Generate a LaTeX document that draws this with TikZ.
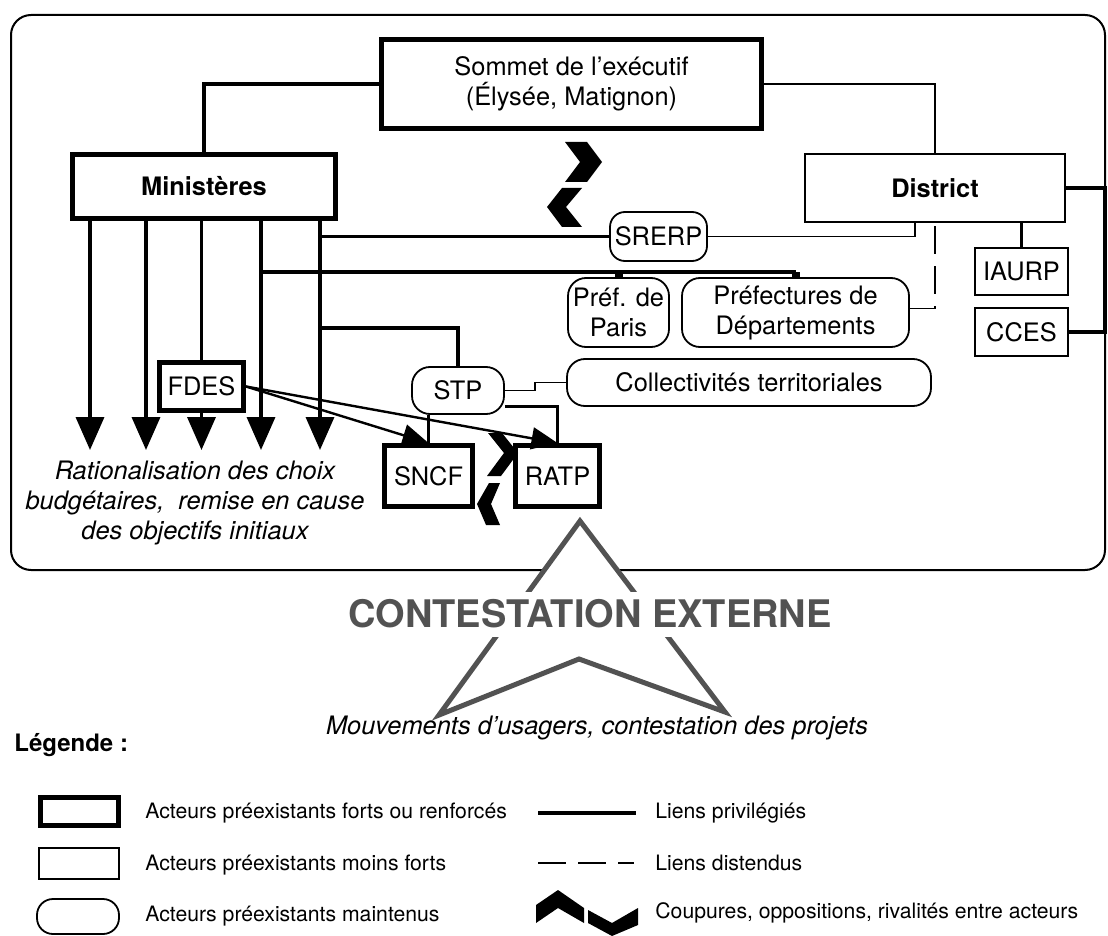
\documentclass[tikz,border=0pt]{standalone}
\usepackage{fontspec}
\setmainfont{TeX Gyre Heros}
\usetikzlibrary{arrows.meta}
\usetikzlibrary{calc}

\definecolor{gris}{RGB}{82,82,82}

\tikzset{
	acteur/.style={inner sep=0pt,align=center,font=\fontsize{12.7pt}{15pt}\selectfont},
	fort/.style={acteur,draw,line width=2.5pt},
	moinsfort/.style={acteur,draw,line width=1pt},
	maintenu/.style={acteur,draw,line width=0.9pt,rounded corners=9pt},
	lienfort/.style={line width=1.8pt},
	lien/.style={line width=0.8pt},
	distendu/.style={line width=0.8pt,dash pattern=on 14pt off 6pt},
	fleche/.style={lienfort,-{Triangle[length=16.5pt,width=14pt]}},
	flechefine/.style={line width=1.2pt,-{Triangle[length=13pt,width=11pt]}},
	legende/.style={anchor=west,inner sep=0pt,font=\fontsize{10.6pt}{13pt}\selectfont},
}

\begin{document}
\begin{tikzpicture}[x=0.5pt,y=-0.5pt]
\useasboundingbox (0,0) rectangle (1108,936);
\draw[line width=1pt,rounded corners=10pt] (11,15) rectangle (1105,570);

\node[fort,minimum width=190pt,minimum height=44.5pt] (sommet) at (571.5,84) {Sommet de l'exécutif\\(Élysée, Matignon)};
\node[fort,minimum width=131.5pt,minimum height=32pt] (minis) at (204,186.5) {\bfseries Ministères};
\node[moinsfort,minimum width=130pt,minimum height=34pt] (district) at (935,188) {\bfseries District};
\node[maintenu,minimum width=48.5pt,minimum height=24.5pt,rounded corners=7.5pt] (srerp) at (658.5,236.5) {SRERP};
\node[maintenu,minimum width=50.5pt,minimum height=34.5pt] (prefparis) at (618.5,312.5) {Préf. de\\Paris};
\node[maintenu,minimum width=113.5pt,minimum height=34.5pt] (prefdep) at (795.5,312.5) {Préfectures de\\Départements};
\node[moinsfort,minimum width=46.5pt,minimum height=23.5pt] (iaurp) at (1021.5,271.5) {IAURP};
\node[moinsfort,minimum width=46.5pt,minimum height=24pt] (cces) at (1021.5,332) {CCES};
\node[maintenu,minimum width=182pt,minimum height=23.5pt] (collect) at (749,382.5) {Collectivités territoriales};
\node[maintenu,minimum width=46pt,minimum height=23.5pt] (stp) at (458,390.5) {STP};
\node[fort,minimum width=42pt,minimum height=24pt] (fdes) at (201.5,386.5) {FDES};
\node[fort,minimum width=44pt,minimum height=30.5pt] (sncf) at (428.5,476) {SNCF};
\node[fort,minimum width=42pt,minimum height=30.5pt] (ratp) at (557.5,476) {RATP};

\draw[lienfort] (minis.north) |- (sommet.west);
\draw[lien] (sommet.east) -| (district.north);

\foreach \x/\n in {90/a,146/b,261/d,320/e}
	\coordinate (fin\n) at (\x,450);
\foreach \n in {a,b,d,e}
	\draw[fleche] (minis.south -| fin\n) -- (fin\n);
\draw[lienfort] (minis.south -| fdes.north) -- (fdes.north);
\draw[fleche] (fdes.south) -- (fdes.south |- fina);

\draw[lienfort] (fine |- srerp.west) -- (srerp.west);
\draw[lien] (srerp.east) -| ([xshift=-10pt]district.south);
\coordinate (pref) at ([yshift=2.5pt]prefdep.north);
\draw[lienfort] (find |- pref) -- (pref);
\draw[line width=4pt] (prefparis.north) -- (prefparis.north |- pref);
\draw[line width=4pt] (prefdep.north) -- (pref);
\draw[distendu] ([yshift=2pt]prefdep.east) -| (district.south);

\coordinate (stpcoude) at (320,328);
\draw[lienfort] (stpcoude) -| (stp.north);
\draw[lien] (stp.east) -- ++(15pt,0) |- (collect.west);
\draw[lienfort] ([yshift=-8pt]stp.east) -| (ratp.north);
\draw[line width=1.2pt] (stp.south -| sncf.north) -- (sncf.north);
\draw[flechefine] (fdes.east) -- (sncf.north);
\draw[flechefine] (fdes.east) -- (ratp.north);

\draw[lienfort] (district.south -| iaurp.north) -- (iaurp.north);
\draw[lienfort] (district.east) -- ++(19.5pt,0) |- (cces.east);

\fill (565,142) -- (587,142) -- (602,162) -- (587,182) -- (565,182) -- (580,162) -- cycle;
\fill (562,188) -- (582,188) -- (566,207) -- (582,227) -- (562,227) -- (547,207) -- cycle;
\fill (488,433) -- (502,433) -- (518,453) -- (501,476) -- (487,476) -- (504,453) -- cycle;
\fill (489,483) -- (500,483) -- (491,504) -- (500,525) -- (486,525) -- (477,504) -- cycle;

\node[acteur,font=\itshape\fontsize{12.7pt}{15pt}\selectfont] (ration) at (195,503) {Rationalisation des choix\\budgétaires,~ remise en cause\\des objectifs initiaux};

\draw[gris,line width=2.5pt,fill=white] (580,521) -- (439,715) -- (579,659) -- (725,712) -- cycle;
\node[inner sep=0pt,fill=white,text=gris,minimum height=22.5pt,font=\bfseries\fontsize{19pt}{22pt}\selectfont] (contest) at (590,614) {CONTESTATION EXTERNE};
\node[acteur,font=\itshape\fontsize{12.7pt}{15pt}\selectfont] (mouv) at (597,728) {Mouvements d'usagers, contestation des projets};

\node[anchor=west,inner sep=0pt,font=\bfseries\fontsize{12pt}{14pt}\selectfont] (leg) at (14,745) {Légende :};
\node[fort,minimum width=39pt,minimum height=14pt] (legfort) at (79.5,811.5) {};
\node[moinsfort,minimum width=40pt,minimum height=15.5pt] (legmoins) at (79,863.5) {};
\node[maintenu,minimum width=41pt,minimum height=17.5pt,rounded corners=8pt] (legmaint) at (78,916.5) {};
\node[legende] (t1) at (145,813) {Acteurs préexistants forts ou renforcés};
\node[legende] (t2) at (145,865) {Acteurs préexistants moins forts};
\node[legende] (t3) at (145,916) {Acteurs préexistants maintenus};
\node[legende] (t4) at (655,813) {Liens privilégiés};
\node[legende] (t5) at (655,863) {Liens distendus};
\node[legende] (t6) at (655,913) {Coupures, oppositions, rivalités entre acteurs};
\draw[line width=2pt] ([xshift=-58.5pt]t4.west) -- ([xshift=-9.5pt]t4.west);
\draw[distendu] ([xshift=-58.5pt]t5.west) -- ([xshift=-10.5pt]t5.west);
\fill (536,905) -- (558,890) -- (584,908) -- (584,923) -- (558,908) -- (536,923) -- cycle;
\fill (588,910) -- (612,923) -- (638,908) -- (638,925) -- (612,936) -- (588,923) -- cycle;
\end{tikzpicture}
\end{document}
